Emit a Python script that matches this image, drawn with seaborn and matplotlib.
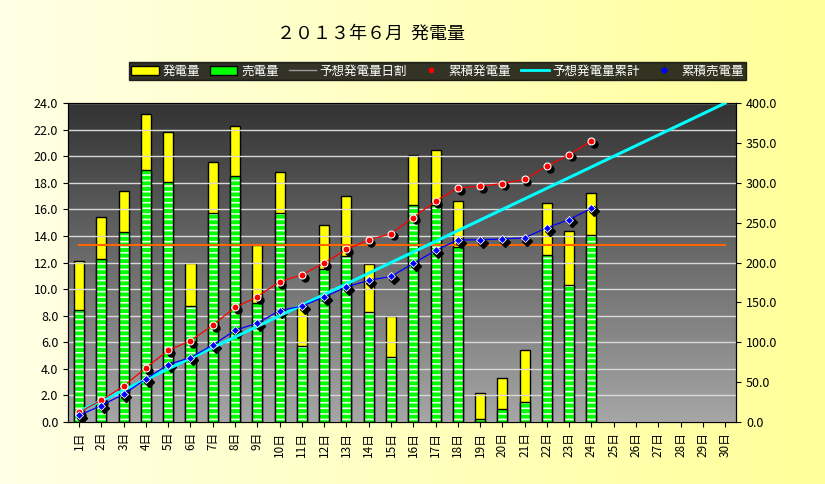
import numpy as np
import pandas as pd
import matplotlib
matplotlib.use('Agg')
import matplotlib.pyplot as plt
import matplotlib.transforms as mtransforms
from matplotlib.patches import Patch, Rectangle
from matplotlib.lines import Line2D
from matplotlib.colors import LinearSegmentedColormap
import seaborn as sns

plt.rcParams['font.family'] = ['Noto Sans CJK JP', 'DejaVu Sans']
plt.rcParams['hatch.linewidth'] = 1.2

# ---- data ----
days = [f'{d}日' for d in range(1, 31)]
generation = [12.1, 15.4, 17.4, 23.2, 21.8, 12.0, 19.6, 22.3, 13.3, 18.8, 8.75, 14.8,
              17.0, 11.9, 8.0, 20.1, 20.5, 16.6, 2.15, 3.35, 5.4, 16.5, 14.4, 17.2]
sold = [8.4, 12.3, 14.3, 19.0, 18.1, 8.75, 15.7, 18.5, 8.95, 15.7, 5.7, 11.5,
        12.5, 8.25, 4.9, 16.3, 16.3, 13.2, 0.2, 1.0, 1.5, 12.6, 10.3, 14.05]
forecast_daily = [13.33] * 30

pad = [np.nan] * (30 - len(generation))
df = pd.DataFrame({'day': days, 'gen': generation + pad, 'sold': sold + pad})
cum_gen = np.cumsum(generation)
cum_sold = np.cumsum(sold)
cum_fc = np.cumsum(forecast_daily)

fig = plt.figure(figsize=(8.25, 4.84), dpi=100)

# figure background gradient (pale yellow)
bg = fig.add_axes([0, 0, 1, 1], zorder=-10)
bg.imshow(np.linspace(0, 1, 256).reshape(1, -1), aspect='auto', extent=[0, 1, 0, 1],
          cmap=LinearSegmentedColormap.from_list('y', ['#ffffe6', '#ffff99']))
bg.axis('off')

ax = fig.add_axes([0.0824, 0.128, 0.81, 0.659])
ax.set_facecolor('none')
ax.imshow(np.linspace(0, 1, 256).reshape(-1, 1), aspect='auto',
          extent=[-0.5, 29.5, 0, 24], zorder=0,
          cmap=LinearSegmentedColormap.from_list('g', ['#333333', '#a6a6a6']))

sns.barplot(data=df, x='day', y='gen', order=days, color='#ffff00', width=0.45,
            saturation=1, edgecolor='black', linewidth=1.0, ax=ax, zorder=2)
n0 = len(ax.patches)
sns.barplot(data=df, x='day', y='sold', order=days, color='#00ff00', width=0.45,
            saturation=1, ax=ax, zorder=3)
for p in ax.patches[n0:]:
    p.set_edgecolor('#e8ffe8')
    p.set_hatch('---')
    p.set_linewidth(0)
    ax.add_patch(Rectangle(p.get_xy(), p.get_width(), p.get_height(), fill=False,
                           edgecolor='black', linewidth=1.0, zorder=4))

ax.plot([0, 29], [13.33, 13.33], color='#ff6600', lw=1.5, zorder=5)

ax.set_xlim(-0.5, 29.5)
ax.set_ylim(0, 24)
ax.set_yticks(np.arange(0, 24.1, 2))
ax.set_yticklabels([f'{v:.1f}' for v in np.arange(0, 24.1, 2)], fontsize=9)
ax.yaxis.grid(True, color='#d9d9d9', lw=1)
ax.set_axisbelow(False)
ax.set_xlabel('')
ax.set_ylabel('')
ax.tick_params(axis='x', labelrotation=90, labelsize=8.5)
for s in ax.spines.values():
    s.set_color('black')

ax2 = ax.twinx()
ax2.set_ylim(0, 400)
ax2.set_yticks(np.arange(0, 401, 50))
ax2.set_yticklabels([f'{v:.1f}' for v in np.arange(0, 401, 50)], fontsize=9)

x = np.arange(len(cum_gen))
sns.lineplot(x=np.arange(30), y=cum_fc, color='#00ffff', lw=2.2, ax=ax2, zorder=5)
shadow = mtransforms.offset_copy(ax2.transData, fig=fig, x=2, y=-2, units='points')
ax2.plot(x, cum_gen, 'o', color='black', ms=5, transform=shadow, zorder=4)
ax2.plot(x, cum_sold, 'D', color='black', ms=5, transform=shadow, zorder=4)
sns.lineplot(x=x, y=cum_gen, color='red', lw=0.9, marker='o', markersize=5,
             markeredgecolor='white', markeredgewidth=0.8, ax=ax2, zorder=6)
sns.lineplot(x=x, y=cum_sold, color='blue', lw=0.9, marker='D', markersize=4.5,
             markeredgecolor='white', markeredgewidth=0.6, ax=ax2, zorder=6)
ax2.set_ylabel('')

fig.text(0.45, 0.93, '２０１３年６月  発電量', ha='center', va='center', fontsize=13)

handles = [Patch(facecolor='#ffff00', edgecolor='black', label='発電量'),
           Patch(facecolor='#00ff00', edgecolor='black', label='売電量'),
           Line2D([], [], color='#999999', lw=1, label='予想発電量日割'),
           Line2D([], [], color='red', marker='o', ls='none', ms=3, label='累積発電量'),
           Line2D([], [], color='#00ffff', lw=2, label='予想発電量累計'),
           Line2D([], [], color='blue', marker='D', ls='none', ms=3, label='累積売電量')]
leg = fig.legend(handles=handles, loc='center', bbox_to_anchor=(0.53, 0.853), ncol=6,
                 fontsize=9, frameon=True, facecolor='black', edgecolor='black',
                 handlelength=2.2, columnspacing=0.8, handletextpad=0.3,
                 borderpad=0.2, fancybox=False)
for t in leg.get_texts():
    t.set_color('white')

fig.savefig('out.png', dpi=100)
